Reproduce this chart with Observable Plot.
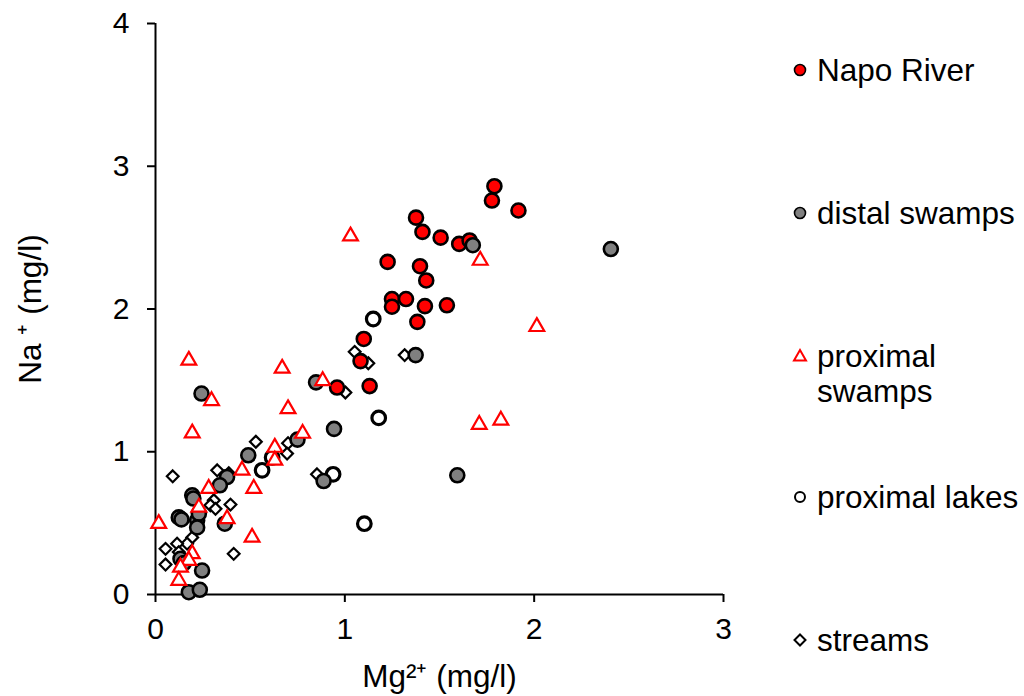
<!DOCTYPE html>
<html><head><meta charset="utf-8">
<script src="https://cdn.jsdelivr.net/npm/d3@7"></script>
<script src="https://cdn.jsdelivr.net/npm/@observablehq/plot@0.6"></script>
<style>
body{margin:0;background:#fff;}
#wrap{position:relative;width:1024px;height:696px;font-family:"Liberation Sans",Arial,sans-serif;background:#fff;}
.leg{position:absolute;font-size:31.5px;line-height:35px;color:#000;white-space:nowrap;}
.mk{position:absolute;}
</style></head><body><div id="wrap"></div>
<script>
// Series: Mg2+ (x) and Na+ (y), mg/l
const napoX = [1.79,1.777,1.917,1.376,1.41,1.506,1.604,1.659,1.226,1.397,1.43,1.249,1.323,1.249,1.423,1.539,1.383,1.10,1.083,0.959,1.131];
const napoY = [2.86,2.76,2.69,2.64,2.54,2.50,2.456,2.48,2.33,2.30,2.20,2.07,2.07,2.016,2.02,2.026,1.91,1.79,1.635,1.45,1.46];

const distalX = [2.405,1.676,1.374,0.848,0.943,0.75,0.888,1.594,0.243,0.49,0.378,0.34,0.194,0.2,0.22,0.229,0.22,0.123,0.137,0.366,0.132,0.15,0.246,0.176,0.234];
const distalY = [2.42,2.447,1.677,1.486,1.16,1.085,0.795,0.835,1.408,0.975,0.823,0.765,0.695,0.672,0.52,0.566,0.47,0.54,0.526,0.496,0.25,0.22,0.168,0.016,0.033];

const swampX = [1.03,1.715,2.014,1.71,1.824,0.883,0.70,0.777,0.176,0.669,0.296,0.194,0.63,0.63,0.457,0.519,0.281,0.229,0.378,0.017,0.51,0.194,0.176,0.132,0.123];
const swampY = [2.51,2.34,1.876,1.19,1.22,1.497,1.30,1.128,1.64,1.584,1.357,1.13,1.03,0.94,0.87,0.742,0.742,0.61,0.53,0.496,0.40,0.285,0.238,0.19,0.098];

const lakeX = [1.15,1.179,0.938,1.103,0.616,0.563];
const lakeY = [1.93,1.237,0.842,0.496,0.96,0.87];

const streamX = [1.052,1.124,1.316,1.003,0.853,0.53,0.70,0.695,0.326,0.387,0.091,0.308,0.29,0.317,0.396,0.194,0.167,0.114,0.053,0.123,0.053,0.413];
const streamY = [1.70,1.62,1.677,1.415,0.842,1.07,1.06,0.987,0.87,0.85,0.828,0.66,0.625,0.60,0.63,0.40,0.356,0.356,0.32,0.297,0.21,0.285];

const xTicks = [0,1,2,3];
const yTicks = [0,1,2,3,4];
const legendLabels = ["Napo River","distal swamps","proximal swamps","proximal lakes","streams"];

const toRows = (xs, ys) => xs.map((x, i) => ({x, y: ys[i]}));
const napo = toRows(napoX, napoY);
const distal = toRows(distalX, distalY);
const swamp = toRows(swampX, swampY);
const lake = toRows(lakeX, lakeY);
const stream = toRows(streamX, streamY);

const chart = Plot.plot({
  width: 1024, height: 696,
  marginLeft: 155, marginRight: 301, marginTop: 23, marginBottom: 102,
  style: {fontFamily: "Liberation Sans, Arial, sans-serif", color: "#000", background: "#fff", overflow: "visible"},
  x: {domain: [0, 3]},
  y: {domain: [0, 4]},
  marks: [
    Plot.axisX({ticks: xTicks, tickSize: 8, tickPadding: 15, strokeWidth: 2, fontSize: 30, label: null, tickFormat: d => String(d)}),
    Plot.axisY({ticks: yTicks, tickSize: 8, tickPadding: 18, strokeWidth: 2, fontSize: 30, label: null, tickFormat: d => String(d)}),
    Plot.ruleX([0], {stroke: "#000", strokeWidth: 2}),
    Plot.ruleY([0], {stroke: "#000", strokeWidth: 2}),
    Plot.dot(stream, {x: "x", y: "y", symbol: "diamond2", r: 5.3, fill: "white", stroke: "#000", strokeWidth: 2.2}),
    Plot.dot(lake, {x: "x", y: "y", r: 6.8, fill: "none", stroke: "#000", strokeWidth: 3.2}),
    Plot.dot(napo, {x: "x", y: "y", r: 7, fill: "#FF0000", stroke: "#000", strokeWidth: 2.6}),
    Plot.dot(distal, {x: "x", y: "y", r: 7, fill: "#808080", stroke: "#000", strokeWidth: 2.6}),
    Plot.dot(swamp, {x: "x", y: "y", symbol: "triangle", r: 5.5, fill: "white", stroke: "#FF0000", strokeWidth: 2.2}),
    Plot.text(["Mg²⁺ (mg/l)"], {frameAnchor: "bottom", dy: 82, lineAnchor: "middle", textAnchor: "middle", fontSize: 31.5, fill: "#000"}),
    Plot.text(["Na ⁺ (mg/l)"], {frameAnchor: "left", dx: -125, rotate: -90, lineAnchor: "middle", textAnchor: "middle", fontSize: 31.5, fill: "#000"})
  ]
});
const wrap = document.getElementById("wrap");
wrap.appendChild(chart);

// Legend
const legendY = [70, 213, 356, 497, 640];
const markers = [
  '<circle cx="10" cy="10" r="5.5" fill="#FF0000" stroke="#000" stroke-width="1.6"/>',
  '<circle cx="10" cy="10" r="5.5" fill="#808080" stroke="#000" stroke-width="1.6"/>',
  '<path d="M10,4 L16,14.5 L4,14.5 Z" fill="white" stroke="#FF0000" stroke-width="2"/>',
  '<circle cx="10" cy="10" r="5" fill="none" stroke="#000" stroke-width="2"/>',
  '<path d="M10,4.5 L15.5,10 L10,15.5 L4.5,10 Z" fill="white" stroke="#000" stroke-width="2"/>'
];
legendLabels.forEach((lab, i) => {
  const m = document.createElement("div");
  m.className = "mk";
  m.style.left = "790px";
  m.style.top = (legendY[i] - 10) + "px";
  m.innerHTML = '<svg width="20" height="20">' + markers[i] + '</svg>';
  wrap.appendChild(m);
  const t = document.createElement("div");
  t.className = "leg";
  t.style.left = "817px";
  t.style.top = (legendY[i] - 17.5) + "px";
  t.innerHTML = lab === "proximal swamps" ? "proximal<br>swamps" : lab;
  wrap.appendChild(t);
});
</script>
</body></html>
